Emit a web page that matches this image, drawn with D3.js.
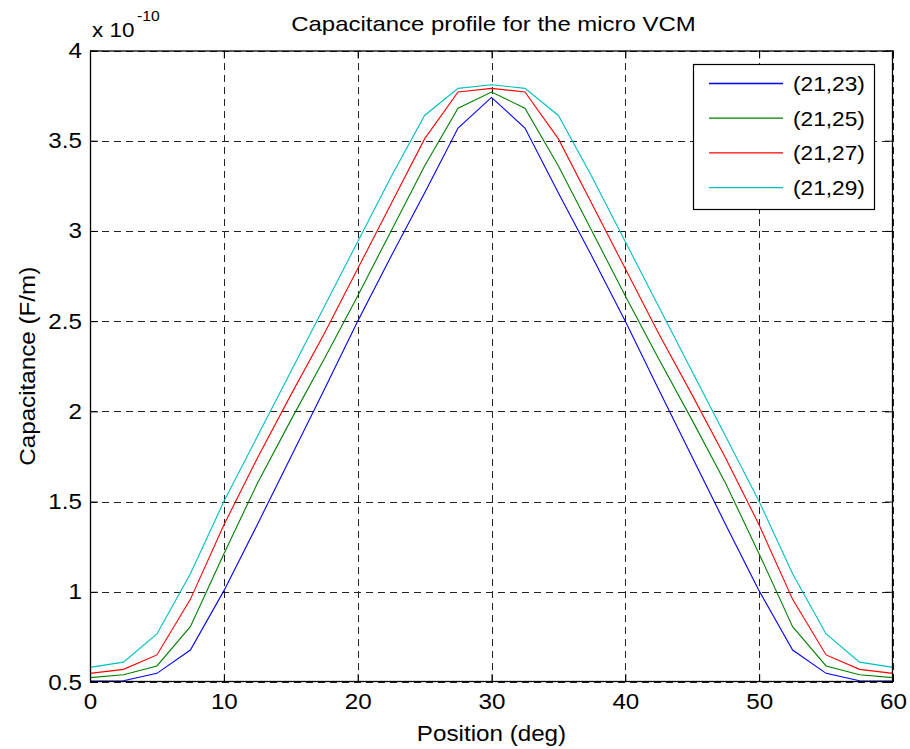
<!DOCTYPE html>
<html>
<head>
<meta charset="utf-8">
<script src="https://cdn.jsdelivr.net/npm/d3@7"></script>
<style>
  html, body { margin: 0; padding: 0; background: #fff; }
  svg { display: block; font-family: "Liberation Sans", Arial, sans-serif; }
</style>
</head>
<body>
<svg id="chart" width="910" height="749"></svg>
<script>
// Rotor position (deg)
const positions = [0, 2.5, 5, 7.5, 10, 12.5, 15, 17.5, 20, 22.5, 25, 27.5, 30,
                   32.5, 35, 37.5, 40, 42.5, 45, 47.5, 50, 52.5, 55, 57.5, 60];

// Capacitance in units of 1e-10 F/m
const cap_21_23 = [0.505, 0.507, 0.548, 0.677, 1.005, 1.372, 1.746, 2.12, 2.50, 2.86, 3.21, 3.57, 3.74,
                   3.57, 3.21, 2.86, 2.50, 2.12, 1.746, 1.372, 1.005, 0.677, 0.548, 0.507, 0.505];
const cap_21_25 = [0.524, 0.540, 0.589, 0.807, 1.21, 1.60, 1.95, 2.29, 2.64, 3.00, 3.36, 3.68, 3.77,
                   3.68, 3.36, 3.00, 2.64, 2.29, 1.95, 1.60, 1.21, 0.807, 0.589, 0.540, 0.524];
const cap_21_27 = [0.548, 0.570, 0.650, 0.958, 1.37, 1.74, 2.09, 2.43, 2.79, 3.15, 3.51, 3.77, 3.79,
                   3.77, 3.51, 3.15, 2.79, 2.43, 2.09, 1.74, 1.37, 0.958, 0.650, 0.570, 0.548];
const cap_21_29 = [0.581, 0.610, 0.766, 1.10, 1.50, 1.86, 2.22, 2.58, 2.94, 3.30, 3.64, 3.79, 3.81,
                   3.79, 3.64, 3.30, 2.94, 2.58, 2.22, 1.86, 1.50, 1.10, 0.766, 0.610, 0.581];

const seriesNames = ["(21,23)", "(21,25)", "(21,27)", "(21,29)"];
const seriesColors = ["#0000ff", "#008000", "#ff0000", "#00bfbf"];
const seriesValues = [cap_21_23, cap_21_25, cap_21_27, cap_21_29];

const xTicks = [0, 10, 20, 30, 40, 50, 60];
const yTicks = [0.5, 1, 1.5, 2, 2.5, 3, 3.5, 4];

const margin = { left: 90, right: 17, top: 50.5, bottom: 67 };
const W = 910, H = 749;
const svg = d3.select("#chart");

// Widen glyphs slightly (Helvetica-like metrics)
const STRETCH = 1.1;
function stretch(sel, k = STRETCH) {
  sel.each(function () {
    const len = this.getComputedTextLength();
    if (len > 0) d3.select(this).attr("textLength", len * k).attr("lengthAdjust", "spacingAndGlyphs");
  });
}

const x = d3.scaleLinear().domain([0, 60]).range([margin.left, W - margin.right]);
const y = d3.scaleLinear().domain([0.5, 4]).range([H - margin.bottom, margin.top]);

const x0 = x.range()[0], x1 = x.range()[1];
const y0 = y.range()[0], y1 = y.range()[1];

// Grid (dashed)
const grid = svg.append("g").attr("stroke", "#222").attr("stroke-width", 1)
  .attr("stroke-dasharray", "7,5").attr("fill", "none");
xTicks.forEach(t => {
  grid.append("line").attr("x1", Math.round(x(t)) + 0.5).attr("x2", Math.round(x(t)) + 0.5)
    .attr("y1", y0).attr("y2", y1);
});
yTicks.forEach(t => {
  grid.append("line").attr("y1", Math.round(y(t)) + 0.5).attr("y2", Math.round(y(t)) + 0.5)
    .attr("x1", x0).attr("x2", x1);
});

// Data lines
const line = d3.line().x((d, i) => x(positions[i])).y(d => y(d));
seriesValues.forEach((vals, k) => {
  svg.append("path").datum(vals).attr("d", line)
    .attr("fill", "none").attr("stroke", seriesColors[k]).attr("stroke-width", 1.1);
});

// Axes with inward ticks, mirrored on top/right
const tickLen = 8;
const fontSize = 22;
const axB = d3.axisBottom(x).tickValues(xTicks).tickSize(-tickLen).tickPadding(11).tickFormat(d3.format("d"));
const axT = d3.axisTop(x).tickValues(xTicks).tickSize(-tickLen).tickFormat("");
const axL = d3.axisLeft(y).tickValues(yTicks).tickSize(-tickLen).tickPadding(8).tickFormat(d => d3.format("")(d));
const axR = d3.axisRight(y).tickValues(yTicks).tickSize(-tickLen).tickFormat("");

function styleAxis(g) {
  g.select(".domain").remove();
  g.selectAll(".tick line").attr("stroke", "#000");
  g.selectAll(".tick text").attr("fill", "#000").style("font-size", fontSize + "px")
    .style("font-family", "Liberation Sans, Arial, sans-serif");
  stretch(g.selectAll(".tick text"));
}
svg.append("g").attr("transform", `translate(0,${y0})`).call(axB).call(styleAxis);
svg.append("g").attr("transform", `translate(0,${y1})`).call(axT).call(styleAxis);
svg.append("g").attr("transform", `translate(${x0},0)`).call(axL).call(styleAxis);
svg.append("g").attr("transform", `translate(${x1},0)`).call(axR).call(styleAxis);

// Axes box
svg.append("rect").attr("x", x0 + 0.5).attr("y", y1 + 0.5)
  .attr("width", x1 - x0 - 1).attr("height", y0 - y1 - 1)
  .attr("fill", "none").attr("stroke", "#000").attr("stroke-width", 1.3);

// Exponent label
svg.append("text").attr("x", 92).attr("y", 37).attr("fill", "#000")
  .style("font-size", "20px").text("x 10").call(stretch, 1.12);
svg.append("text").attr("x", 137).attr("y", 21).attr("fill", "#000")
  .style("font-size", "14px").text("-10").call(stretch, 1.12);

// Title
svg.append("text").attr("x", (x0 + x1) / 2 + 2).attr("y", 31).attr("text-anchor", "middle")
  .attr("fill", "#000").style("font-size", "21px").text("Capacitance profile for the micro VCM")
  .call(stretch, 1.14);

// Axis labels
svg.append("text").attr("x", (x0 + x1) / 2).attr("y", 741).attr("text-anchor", "middle")
  .attr("fill", "#000").style("font-size", fontSize + "px").text("Position (deg)").call(stretch);
svg.append("text").attr("transform", `translate(35,${(y0 + y1) / 2}) rotate(-90)`)
  .attr("text-anchor", "middle").attr("fill", "#000").style("font-size", fontSize + "px")
  .text("Capacitance (F/m)").call(stretch);

// Legend
const lg = svg.append("g");
lg.append("rect").attr("x", 693.5).attr("y", 64.5).attr("width", 181).attr("height", 145)
  .attr("fill", "#fff").attr("stroke", "#000").attr("stroke-width", 1.2);
seriesNames.forEach((name, k) => {
  const yy = 83.5 + k * 34.7;
  lg.append("line").attr("x1", 709).attr("x2", 783).attr("y1", yy).attr("y2", yy)
    .attr("stroke", seriesColors[k]).attr("stroke-width", 1.3);
  lg.append("text").attr("x", 793).attr("y", yy + 7.5).attr("fill", "#000")
    .style("font-size", "21px").text(name).call(stretch, 1.08);
});
</script>
</body>
</html>
